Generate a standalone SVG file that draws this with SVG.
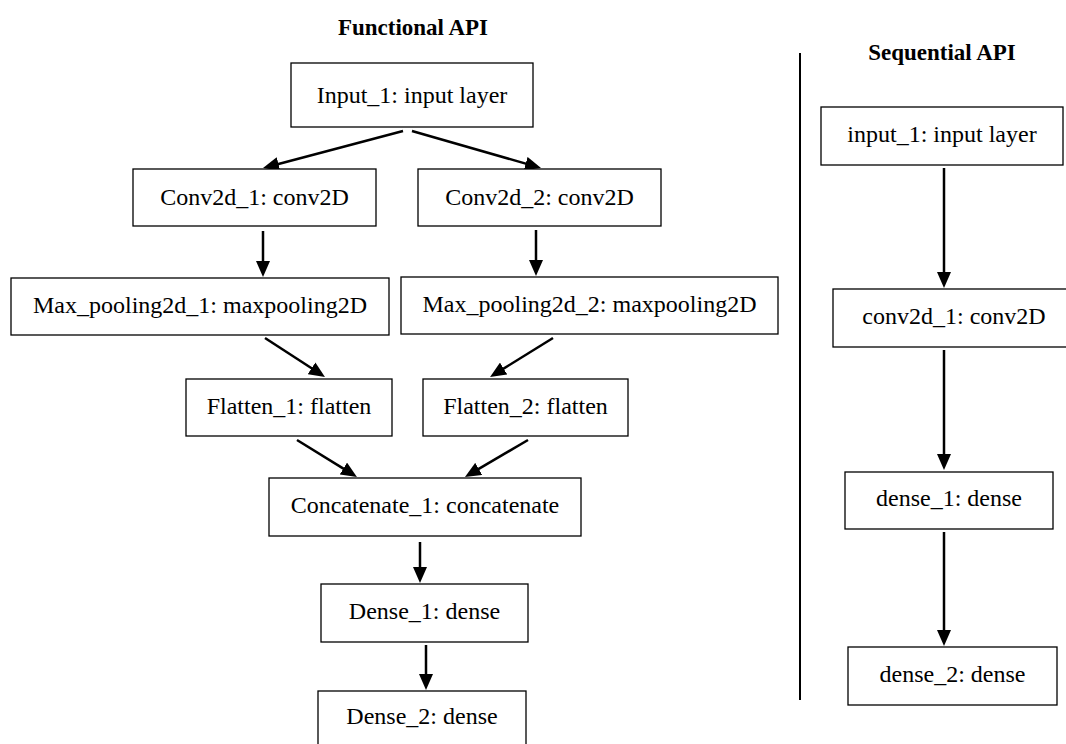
<svg xmlns="http://www.w3.org/2000/svg" width="1066" height="744" viewBox="0 0 1066 744">
<style>
.box{fill:#fff;stroke:#000;stroke-width:1.3}
.lbl{font-family:"Liberation Serif","Times New Roman",serif;font-size:24px;fill:#000;text-anchor:middle}
.ttl{font-family:"Liberation Serif","Times New Roman",serif;font-size:23px;font-weight:bold;fill:#000;text-anchor:middle}
.arr{stroke:#000;stroke-width:2.5;fill:none;marker-end:url(#ah)}
</style>
<defs>
<marker id="ah" viewBox="0 0 16 14" markerWidth="16" markerHeight="14" refX="1" refY="7" orient="auto" markerUnits="userSpaceOnUse">
<path d="M0,0 L16,7 L0,14 z" fill="#000"/>
</marker>
</defs>
<rect width="1066" height="744" fill="#fff"/>
<text class="ttl" x="413" y="35">Functional API</text>
<text class="ttl" x="942" y="60">Sequential API</text>
<line x1="800" y1="53" x2="800" y2="700" stroke="#000" stroke-width="2"/>
<g id="connectors">
<line class="arr" x1="403" y1="131" x2="277.5" y2="164.2"/>
<line class="arr" x1="412" y1="131" x2="526.6" y2="163.9"/>
<line class="arr" x1="263" y1="231" x2="263" y2="262"/>
<line class="arr" x1="536" y1="230" x2="536" y2="261"/>
<line class="arr" x1="265" y1="338" x2="312.4" y2="368.8"/>
<line class="arr" x1="553" y1="338" x2="502.8" y2="369.1"/>
<line class="arr" x1="297" y1="440" x2="344.2" y2="469.1"/>
<line class="arr" x1="528" y1="440" x2="477.9" y2="469.4"/>
<line class="arr" x1="420" y1="542" x2="420" y2="568"/>
<line class="arr" x1="426" y1="645" x2="426" y2="675"/>
<line class="arr" x1="944" y1="168" x2="944" y2="273"/>
<line class="arr" x1="944" y1="350" x2="944" y2="455"/>
<line class="arr" x1="944" y1="532" x2="944" y2="631"/>
</g>
<g id="f_input1"><rect class="box" x="291" y="63" width="242" height="64"/><text class="lbl" x="412" y="103">Input_1: input layer</text></g>
<g id="f_conv1"><rect class="box" x="133" y="169" width="243" height="57"/><text class="lbl" x="254.5" y="205">Conv2d_1: conv2D</text></g>
<g id="f_conv2"><rect class="box" x="418" y="169" width="243" height="57"/><text class="lbl" x="539.5" y="205">Conv2d_2: conv2D</text></g>
<g id="f_max1"><rect class="box" x="11" y="278" width="378" height="57"/><text class="lbl" x="200" y="313">Max_pooling2d_1: maxpooling2D</text></g>
<g id="f_max2"><rect class="box" x="401" y="277" width="377" height="57"/><text class="lbl" x="589.5" y="312">Max_pooling2d_2: maxpooling2D</text></g>
<g id="f_flat1"><rect class="box" x="186" y="379" width="206" height="57"/><text class="lbl" x="289" y="414">Flatten_1: flatten</text></g>
<g id="f_flat2"><rect class="box" x="423" y="379" width="205" height="57"/><text class="lbl" x="525.5" y="414">Flatten_2: flatten</text></g>
<g id="f_concat"><rect class="box" x="269" y="478" width="312" height="58"/><text class="lbl" x="425" y="513">Concatenate_1: concatenate</text></g>
<g id="f_dense1"><rect class="box" x="321" y="584" width="207" height="58"/><text class="lbl" x="424.5" y="619">Dense_1: dense</text></g>
<g id="f_dense2"><rect class="box" x="318" y="691" width="208" height="58"/><text class="lbl" x="422" y="724">Dense_2: dense</text></g>
<g id="s_input1"><rect class="box" x="821" y="107" width="242" height="58"/><text class="lbl" x="942" y="142">input_1: input layer</text></g>
<g id="s_conv1"><rect class="box" x="833" y="289" width="242" height="58"/><text class="lbl" x="954" y="324">conv2d_1: conv2D</text></g>
<g id="s_dense1"><rect class="box" x="845" y="472" width="208" height="57"/><text class="lbl" x="949" y="506">dense_1: dense</text></g>
<g id="s_dense2"><rect class="box" x="848" y="647" width="209" height="58"/><text class="lbl" x="952.5" y="682">dense_2: dense</text></g>
</svg>
